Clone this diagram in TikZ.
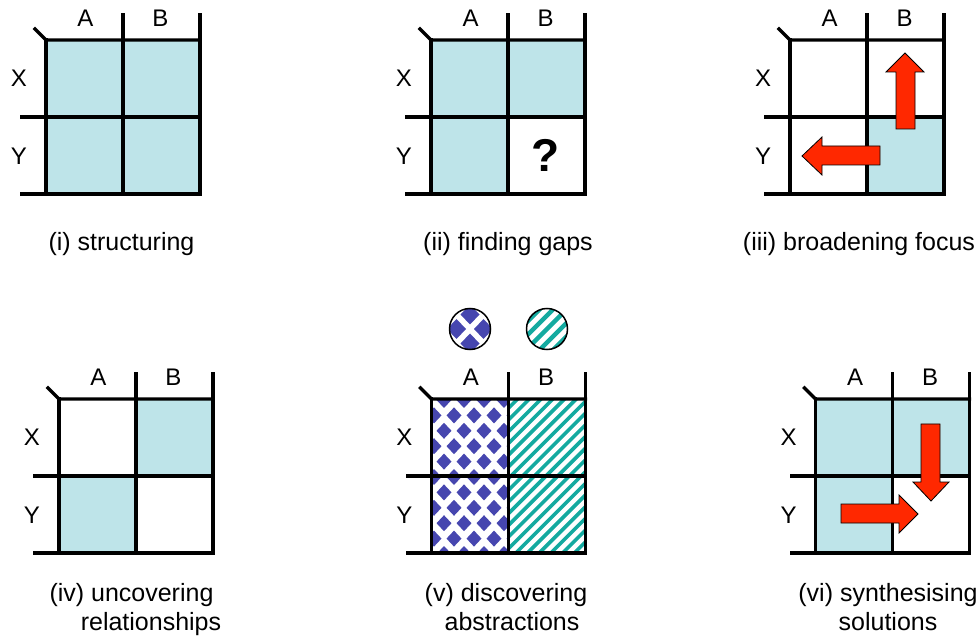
\documentclass[tikz,border=0pt]{standalone}
\usepackage{fontspec}
\setmainfont{Liberation Sans}
\definecolor{cellblue}{RGB}{190,228,233}
\definecolor{arrred}{RGB}{255,40,0}
\definecolor{dblue}{RGB}{70,70,175}
\definecolor{tealst}{RGB}{20,170,160}
\tikzset{
  gridline/.style={line width=3.2pt, line cap=rect, line join=miter},
  lbl/.style={font=\fontsize{24}{28}\selectfont, inner sep=0pt},
  captxt/.style={font=\fontsize{25}{30}\selectfont, inner sep=0pt, anchor=base},
  bigarrow/.style={fill=arrred, draw=black, line width=0.8pt, line join=miter},
  cellfill/.style={fill=cellblue},
  stripe/.style={draw=tealst, line width=3.6pt},
}
% #1 x0, #2 y0, #3 name prefix ; cell size 77
\newcommand{\mygrid}[3]{%
  \draw[gridline] (#1-11,#2-11) -- (#1,#2) -- (#1+154,#2);
  \draw[gridline] (#1,#2) -- (#1,#2+154);
  \draw[gridline] (#1+77,#2-25) -- (#1+77,#2+154);
  \draw[gridline] (#1+154,#2-25) -- (#1+154,#2+154);
  \draw[gridline] (#1-24,#2+77) -- (#1+154,#2+77);
  \draw[gridline] (#1-24,#2+154) -- (#1+154,#2+154);
  \node[lbl] (#3A) at (#1+39.5,#2-21.5) {A};
  \node[lbl] (#3B) at (#1+114.5,#2-21.5) {B};
  \node[lbl] (#3X) at (#1-27,#2+38.5) {X};
  \node[lbl] (#3Y) at (#1-27,#2+116.5) {Y};
}
\begin{document}
\begin{tikzpicture}[x=1pt,y=-1pt]
\useasboundingbox (0,0) rectangle (978,636);

% ---------- fills ----------
% (i)
\fill[cellfill] (46,40) rectangle (200,194);
% (ii)
\fill[cellfill] (431,40) rectangle (585,117);
\fill[cellfill] (431,117) rectangle (508,194);
% (iii)
\fill[cellfill] (867,117) rectangle (944,194);
% (iv)
\fill[cellfill] (136,399) rectangle (213,476);
\fill[cellfill] (59,476) rectangle (136,553);
% (vi)
\fill[cellfill] (815.5,399) rectangle (969.5,476);
\fill[cellfill] (815.5,476) rectangle (892.5,553);

% (v) diamonds in column A
\begin{scope}
  \clip (431.5,399) rectangle (508.5,553);
  \foreach \j in {0,...,11} {
    \foreach \i in {-1,...,4} {
      \pgfmathsetmacro\px{444 + 20*\i - 10*mod(\j,2)}
      \pgfmathsetmacro\py{400 + 15.4*\j}
      \fill[dblue] (\px-7.5,\py) -- (\px,\py-8) -- (\px+7.5,\py) -- (\px,\py+8) -- cycle;
    }
  }
\end{scope}
% (v) stripes in column B
\begin{scope}
  \clip (508.5,399) rectangle (585.5,553);
  \foreach \k in {0,...,22} {
    \pgfmathsetmacro\kk{905 + 11.7*\k}
    \draw[stripe] (\kk-389,389) -- (\kk-563,563);
  }
\end{scope}

% circles above (v)
\begin{scope}
  \clip (470,329) circle (20.5);
  \foreach \k in {-2,...,2} {
    \foreach \m in {-2,...,2} {
      \pgfmathtruncatemacro\myodd{mod(abs(\k+\m),2)}
      \ifnum\myodd=1
        \pgfmathsetmacro\px{470 + 13.5*\k}
        \pgfmathsetmacro\py{329 + 14.5*\m}
        \fill[dblue] (\px-9.5,\py) -- (\px,\py-10) -- (\px+9.5,\py) -- (\px,\py+10) -- cycle;
      \fi
    }
  }
\end{scope}
\draw[line width=1.5pt] (470,329) circle (20.5);
\begin{scope}
  \clip (547,329) circle (20.5);
  \foreach \k in {-4,...,4} {
    \pgfmathsetmacro\kk{547+329 + 13.5*\k}
    \draw[draw=tealst, line width=4.5pt] (\kk-300,300) -- (\kk-360,360);
  }
\end{scope}
\draw[line width=1.5pt] (547,329) circle (20.5);

% ---------- grids ----------
\mygrid{46}{40}{g1}
\mygrid{431}{40}{g2}
\mygrid{790}{40}{g3}
\mygrid{59}{399}{g4}
\mygrid{431.5}{399}{g5}
\mygrid{815.5}{399}{g6}

% question mark
\node[font=\bfseries\fontsize{46}{50}\selectfont, inner sep=0pt] (qm) at (546,155) {?};

% ---------- arrows ----------
\draw[bigarrow] (896,129) -- (915,129) -- (915,72) -- (924,72) -- (905,53) -- (886,72) -- (896,72) -- cycle;
\draw[bigarrow] (880,146) -- (822,146) -- (822,137) -- (802,156) -- (822,175) -- (822,165) -- (880,165) -- cycle;
\draw[bigarrow] (921,424) -- (940,424) -- (940,482) -- (949,482) -- (931,501) -- (913,482) -- (921,482) -- cycle;
\draw[bigarrow] (841,504) -- (899,504) -- (899,495) -- (918,514) -- (899,533) -- (899,523) -- (841,523) -- cycle;

% ---------- captions ----------
\node[captxt] (c1) at (121.5,251) {(i) structuring};
\node[captxt] (c2) at (508,251) {(ii) finding gaps};
\node[captxt] (c3) at (859,251) {(iii) broadening focus};
\node[captxt] (c4a) at (131.5,601) {(iv) uncovering};
\node[captxt] (c4b) at (151,630) {relationships};
\node[captxt] (c5a) at (506,601) {(v) discovering};
\node[captxt] (c5b) at (512,630) {abstractions};
\node[captxt] (c6a) at (888,601) {(vi) synthesising};
\node[captxt] (c6b) at (888,630) {solutions};
\end{tikzpicture}
\end{document}
